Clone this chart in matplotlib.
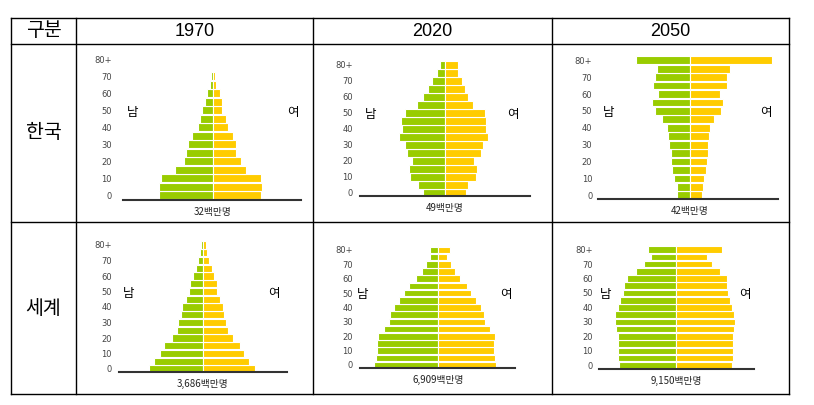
import matplotlib
matplotlib.use("Agg")
import matplotlib.pyplot as plt
from matplotlib import font_manager as fm
from matplotlib.lines import Line2D

# age groups 0-4 ... 80+ (bottom -> top); bar lengths (relative units)
AGE_TICKS = ["0", "10", "20", "30", "40", "50", "60", "70", "80+"]
COLUMNS = ["1970", "2020", "2050"]
ROWS = ["한국", "세계"]

kor1970_m = [162, 162, 157, 113, 88, 80, 75, 62, 45, 40, 32, 24, 19, 8, 5, 0, 0]
kor1970_f = [143, 148, 143, 100, 83, 70, 70, 60, 45, 40, 28, 27, 20, 8, 6, 0, 0]
kor2020_m = [67, 80, 105, 107, 100, 115, 120, 137, 130, 133, 120, 85, 65, 50, 40, 25, 15]
kor2020_f = [63, 70, 92, 97, 88, 107, 113, 128, 123, 123, 120, 83, 68, 60, 51, 40, 40]
kor2050_m = [40, 40, 48, 53, 57, 58, 62, 65, 70, 83, 105, 113, 95, 110, 105, 100, 162]
kor2050_f = [35, 38, 42, 47, 50, 55, 55, 58, 60, 73, 93, 98, 90, 110, 112, 120, 247]
world1970_m = [163, 146, 128, 116, 93, 78, 75, 65, 63, 50, 41, 38, 30, 20, 15, 8, 5]
world1970_f = [157, 139, 122, 112, 89, 75, 70, 64, 60, 52, 42, 42, 34, 27, 19, 13, 10]
world2020_m = [193, 187, 182, 184, 181, 163, 148, 145, 133, 118, 103, 88, 67, 49, 37, 25, 23]
world2020_f = [175, 170, 167, 167, 170, 155, 140, 137, 128, 115, 98, 88, 65, 50, 40, 28, 35]
world2050_m = [172, 175, 175, 175, 175, 180, 184, 184, 175, 167, 160, 157, 147, 121, 95, 74, 85]
world2050_f = [168, 170, 171, 171, 171, 173, 176, 173, 168, 161, 156, 153, 153, 133, 108, 93, 138]

totals = ["32백만명", "49백만명", "42백만명", "3,686백만명", "6,909백만명", "9,150백만명"]

GREEN = "#99cc00"
YELLOW = "#ffcc00"
W, H = 814, 405

KR = ["Noto Sans CJK KR", "DejaVu Sans"]
names = {f.name for f in fm.fontManager.ttflist}
NARROW = "Liberation Sans Narrow" if "Liberation Sans Narrow" in names else "Liberation Sans"

fig = plt.figure(figsize=(W / 100, H / 100), dpi=100)

# table grid (pixel layout)
bg = fig.add_axes([0, 0, 1, 1])
bg.set_xlim(0, W)
bg.set_ylim(H, 0)
bg.axis("off")
xs = [11, 76, 313, 552, 789]
ys = [18, 44, 222, 394]
for x in xs:
    bg.add_line(Line2D([x, x], [ys[0], ys[-1]], color="black", lw=1.0))
for y in ys:
    bg.add_line(Line2D([xs[0], xs[-1]], [y, y], color="black", lw=1.0))

bg.text((xs[0] + xs[1]) / 2, 31, "구분", ha="center", va="center", fontsize=14, family=KR)
for i, c in enumerate(COLUMNS):
    bg.text((xs[i + 1] + xs[i + 2]) / 2, 31, c, ha="center", va="center",
            fontsize=13, family=NARROW)
for j, r in enumerate(ROWS):
    bg.text((xs[0] + xs[1]) / 2, (ys[j + 1] + ys[j + 2]) / 2, r, ha="center",
            va="center", fontsize=14, family=KR)

# panel layout: centre x, y of bar 0, bar spacing, baseline y, left/right extent, label positions
panels = [
    dict(m=kor1970_m, f=kor1970_f, cx=213, y0=195.3, dy=8.5, ly=200, L=270, R=265, pad=11, nam=0.056, yeo=0.95),
    dict(m=kor2020_m, f=kor2020_f, cx=445, y0=193.0, dy=8.0, ly=196, L=255, R=255, pad=7, nam=0.06, yeo=0.90),
    dict(m=kor2050_m, f=kor2050_f, cx=690, y0=195.3, dy=8.44, ly=199, L=275, R=265, pad=6, nam=0.056, yeo=0.93),
    dict(m=world1970_m, f=world1970_f, cx=203, y0=369.0, dy=7.75, ly=372, L=253, R=252, pad=7, nam=0.06, yeo=0.92),
    dict(m=world2020_m, f=world2020_f, cx=438, y0=365.0, dy=7.19, ly=368, L=235, R=232, pad=7, nam=0.02, yeo=0.94),
    dict(m=world2050_m, f=world2050_f, cx=676, y0=365.3, dy=7.23, ly=369, L=232, R=235, pad=6, nam=0.045, yeo=0.94),
]

top_idx = 16.6
for p, total in zip(panels, totals):
    left_px = p["cx"] - p["L"] / 3
    width_px = (p["L"] + p["R"]) / 3
    top_px = p["y0"] - top_idx * p["dy"]
    ax = fig.add_axes([left_px / W, 1 - p["ly"] / H, width_px / W, (p["ly"] - top_px) / H])
    idx = list(range(len(p["m"])))
    ax.barh(idx, [-v for v in p["m"]], height=0.92, color=GREEN, edgecolor="white", linewidth=0.8)
    ax.barh(idx, p["f"], height=0.92, color=YELLOW, edgecolor="white", linewidth=0.8)
    ax.set_xlim(-p["L"], p["R"])
    ax.set_ylim(-(p["ly"] - p["y0"]) / p["dy"], top_idx)
    ax.set_yticks(range(0, 17, 2))
    ax.set_yticklabels(AGE_TICKS, fontsize=6, color="#444444")
    ax.tick_params(axis="y", length=0, pad=p["pad"] * 0.72)
    ax.set_xticks([])
    for s in ["top", "left", "right"]:
        ax.spines[s].set_visible(False)
    ax.spines["bottom"].set_color("#333333")
    ax.spines["bottom"].set_linewidth(1.5)
    ax.patch.set_alpha(0)
    ax.text(p["nam"], 0.6, "남", transform=ax.transAxes, ha="center", va="center",
            fontsize=9, family=KR)
    ax.text(p["yeo"], 0.6, "여", transform=ax.transAxes, ha="center", va="center",
            fontsize=9, family=KR)
    ax.annotate(total, xy=(0, 0), xycoords=("data", "axes fraction"),
                xytext=(0, -8.5), textcoords="offset points", ha="center", va="center",
                fontsize=7, family=KR, color="#222222")

fig.savefig("out.png", dpi=100)
